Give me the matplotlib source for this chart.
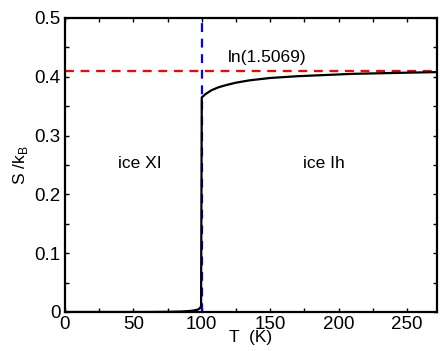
import matplotlib.pyplot as plt
import numpy as np

# entropy curve
T = [0, 60, 75, 85, 90, 94, 97, 98.5, 99.5, 100, 100.5, 103, 107, 112, 118, 125, 135, 150, 170, 190, 210, 230, 250, 273]
S = [0, 0, 0.0003, 0.0008, 0.0015, 0.0025, 0.004, 0.006, 0.01, 0.365, 0.366, 0.371, 0.377, 0.382, 0.386, 0.390, 0.394, 0.398, 0.401, 0.403, 0.405, 0.406, 0.407, 0.408]
S_ref = np.log(1.5069)
T_c = 100

plt.rcParams['font.family'] = ['Liberation Sans', 'DejaVu Sans']
plt.rcParams['font.size'] = 12

fig = plt.figure(figsize=(4.41, 3.51), dpi=100)
ax = fig.add_axes([65 / 441, 1 - 312 / 351, 372 / 441, 294 / 351])

ax.axhline(S_ref, color='red', ls=(0, (4, 3)), lw=1.6)
ax.axvline(T_c, color='blue', ls=(0, (4, 3)), lw=1.6)
ax.plot(T, S, color='black', lw=1.6)

ax.text(55, 0.253, 'ice XI', ha='center', va='center', fontsize=12.5)
ax.text(189, 0.253, 'ice Ih', ha='center', va='center', fontsize=12.5)
ax.text(148, 0.432, 'ln(1.5069)', ha='center', va='center', fontsize=12.5)

ax.set_xlim(0, 272)
ax.set_ylim(0, 0.5)
ax.set_xticks([0, 50, 100, 150, 200, 250])
ax.set_xticks(np.arange(0, 273, 25), minor=True)
ax.set_yticks([0, 0.1, 0.2, 0.3, 0.4, 0.5])
ax.set_yticklabels(['0', '0.1', '0.2', '0.3', '0.4', '0.5'])
ax.set_yticks(np.arange(0, 0.51, 0.05), minor=True)
ax.tick_params(which='both', direction='in', top=True, right=True, length=3, width=1)
ax.tick_params(labelsize=13.5, pad=3)
for sp in ax.spines.values():
    sp.set_linewidth(1.6)

ax.set_xlabel('T  (K)', fontsize=12.5, labelpad=-2)
ax.set_ylabel('S /k$_{\\mathregular{B}}$', fontsize=12.5, labelpad=3)

fig.savefig('out.png', dpi=100)
